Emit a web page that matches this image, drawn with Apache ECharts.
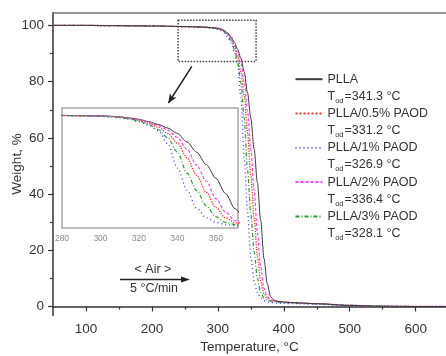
<!DOCTYPE html>
<html>
<head>
<meta charset="utf-8">
<script src="https://cdn.jsdelivr.net/npm/echarts@6/dist/echarts.min.js"></script>
<style>
  html, body { margin: 0; padding: 0; background: #fff; }
  #chart { width: 446px; height: 356px; }
</style>
</head>
<body>
<div id="chart"></div>
<script>
const temps = [50, 100, 150, 200, 250, 280, 290, 300, 305, 310, 315, 320, 325, 330, 335, 340, 345, 350, 355, 360, 365, 370, 375, 380, 385, 390, 400, 420, 450, 500, 550, 600, 650];
const pllaW = [100.0, 100.0, 99.9, 99.8, 99.6, 99.4, 99.2, 99.0, 98.7, 98.2, 97.3, 96.0, 94.0, 91.5, 88.3, 83.5, 76.0, 67.0, 56.0, 44.0, 30.5, 17.0, 8.0, 3.5, 2.3, 1.9, 1.6, 1.3, 1.0, 0.4, 0.1, 0.0, 0.0];
const paod05W = [100.0, 100.0, 99.9, 99.8, 99.6, 99.4, 99.2, 98.9, 98.5, 97.9, 96.8, 95.2, 92.7, 89.0, 83.5, 75.0, 62.0, 46.5, 31.5, 18.0, 9.0, 4.5, 2.8, 2.1, 1.9, 1.7, 1.5, 1.3, 1.0, 0.4, 0.1, 0.0, 0.0];
const paod1W = [100.0, 100.0, 99.9, 99.8, 99.5, 99.3, 99.0, 98.6, 98.1, 97.3, 95.9, 93.8, 90.8, 86.0, 74.5, 53.0, 33.5, 17.5, 9.0, 5.0, 3.0, 2.0, 1.6, 1.4, 1.3, 1.2, 1.1, 1.0, 0.8, 0.3, 0.1, 0.0, 0.0];
const paod2W = [100.0, 100.0, 99.9, 99.8, 99.6, 99.4, 99.2, 99.0, 98.6, 98.0, 97.0, 95.5, 93.3, 90.5, 86.5, 80.0, 69.5, 55.5, 41.5, 26.0, 14.0, 6.5, 3.5, 2.4, 2.0, 1.8, 1.5, 1.3, 1.0, 0.4, 0.1, 0.0, 0.0];
const paod3W = [100.0, 100.0, 99.9, 99.8, 99.6, 99.4, 99.1, 98.8, 98.4, 97.7, 96.5, 94.6, 91.5, 87.0, 79.5, 67.0, 48.5, 33.0, 19.5, 10.0, 5.0, 3.0, 2.2, 1.9, 1.7, 1.6, 1.4, 1.2, 0.9, 0.4, 0.1, 0.0, 0.0];

const seriesNames = ['PLLA', 'PLLA/0.5% PAOD', 'PLLA/1% PAOD', 'PLLA/2% PAOD', 'PLLA/3% PAOD'];
const todValues = ['341.3', '331.2', '326.9', '336.4', '328.1'];

const xTicks = [100, 200, 300, 400, 500, 600];
const xMinorTicks = [150, 250, 350, 450, 550];
const yTicks = [0, 20, 40, 60, 80, 100];
const yMinorTicks = [10, 30, 50, 70, 90];
const insetTicks = [280, 300, 320, 340, 360];

const FONT = '"Liberation Sans", Arial, sans-serif';
const INK = '#333';
const lineStyles = [
  { color: '#3c3c3c', width: 1, type: 'solid' },
  { color: '#ff3030', width: 1.3, type: 'dotted' },
  { color: '#3c3cff', width: 1.3, type: [1, 3] },
  { color: '#ff40ff', width: 1.2, type: [3, 2] },
  { color: '#2e9e2e', width: 1.2, type: [4, 2, 1, 2] },
];

const weights = [pllaW, paod05W, paod1W, paod2W, paod3W];
const pairs = w => temps.map((t, i) => [t, w[i]]);

const mainSeries = weights.map((w, i) => ({
  name: seriesNames[i],
  type: 'line',
  xAxisIndex: 0,
  yAxisIndex: 0,
  data: pairs(w),
  symbol: 'none',
  smooth: 0.3,
  smoothMonotone: 'x',
  itemStyle: { color: lineStyles[i].color },
  lineStyle: lineStyles[i],
  z: 3 + (i === 0 ? 1 : 0),
}));

const insetSeries = weights.map((w, i) => ({
  name: seriesNames[i],
  type: 'line',
  xAxisIndex: 3,
  yAxisIndex: 2,
  data: pairs(w),
  symbol: 'none',
  smooth: 0.3,
  smoothMonotone: 'x',
  itemStyle: { color: lineStyles[i].color },
  lineStyle: lineStyles[i],
}));

// zoom box + pointer arrow
mainSeries[0].markArea = {
  silent: true,
  itemStyle: { color: 'rgba(0,0,0,0)', borderColor: '#444', borderWidth: 1.5, borderType: 'dotted' },
  data: [[{ coord: [239.7, 101.8] }, { coord: [358, 87.2] }]],
};
mainSeries[0].markLine = {
  silent: true,
  symbol: ['none', 'arrow'],
  symbolSize: [6, 9],
  label: { show: false },
  lineStyle: { color: '#222', width: 1.5, type: 'solid' },
  data: [[{ coord: [260.5, 85.4] }, { coord: [225, 72.4] }]],
};

const labelStyle = { color: INK, fontSize: 13.5, fontFamily: FONT };
const grid = { left: 53, right: 0, top: 12.5, bottom: 40.5, outerBoundsMode: 'none' };

const chart = echarts.init(document.getElementById('chart'));
chart.setOption({
  animation: false,
  backgroundColor: '#fff',
  textStyle: { fontFamily: FONT },
  grid: [
    grid,
    grid,
    { left: 62, top: 108, width: 176, height: 120, outerBoundsMode: 'none', show: true, backgroundColor: '#fff', borderColor: '#a8a8a8', borderWidth: 1.5, z: 1 },
  ],
  xAxis: [
    {
      type: 'value', gridIndex: 0, min: 50, max: 646,
      name: 'Temperature, °C', nameLocation: 'middle', nameGap: 25, nameMoveOverlap: false,
      nameTextStyle: labelStyle,
      axisLine: { lineStyle: { color: INK, width: 1.5 } },
      axisTick: { customValues: xTicks, length: 5, lineStyle: { color: INK, width: 1.2 } },
      axisLabel: { customValues: xTicks, margin: 7, ...labelStyle },
      splitLine: { show: false },
    },
    {
      type: 'value', gridIndex: 0, position: 'top', min: 50, max: 646,
      axisLine: { lineStyle: { color: '#777', width: 1.5 } },
      axisTick: { show: false }, axisLabel: { show: false }, splitLine: { show: false },
    },
    {
      type: 'value', gridIndex: 1, min: 50, max: 646,
      axisLine: { show: false },
      axisTick: { customValues: xMinorTicks, length: 3, lineStyle: { color: INK, width: 1.2 } },
      axisLabel: { show: false }, splitLine: { show: false },
    },
    {
      type: 'value', gridIndex: 2, min: 280, max: 371.5,
      axisLine: { show: false },
      axisTick: { show: false },
      axisLabel: { customValues: insetTicks, margin: 6, color: '#8a8a8a', fontSize: 8.5, fontFamily: FONT },
      splitLine: { show: false },
    },
  ],
  yAxis: [
    {
      type: 'value', gridIndex: 0, min: -3.2, max: 104.6,
      name: 'Weight, %', nameLocation: 'middle', nameGap: 29, nameMoveOverlap: false,
      nameTextStyle: labelStyle,
      axisLine: { lineStyle: { color: INK, width: 1.5 } },
      axisTick: { customValues: yTicks, length: 5, lineStyle: { color: INK, width: 1.2 } },
      axisLabel: { customValues: yTicks, margin: 9, ...labelStyle },
      splitLine: { show: false },
    },
    {
      type: 'value', gridIndex: 1, min: -3.2, max: 104.6,
      axisLine: { show: false },
      axisTick: { customValues: yMinorTicks, length: 3, lineStyle: { color: INK, width: 1.2 } },
      axisLabel: { show: false }, splitLine: { show: false },
    },
    {
      type: 'value', gridIndex: 2, min: 0, max: 106,
      axisLine: { show: false }, axisTick: { show: false }, axisLabel: { show: false }, splitLine: { show: false },
    },
  ],
  legend: {
    data: seriesNames,
    orient: 'vertical',
    left: 294.5,
    top: 55.7,
    padding: 0,
    itemWidth: 27,
    itemHeight: 14,
    itemGap: -14.7,
    selectedMode: false,
    itemStyle: { opacity: 0 },
    formatter: name => `{e| }\n{n|${name}}\n{t|T}{s|od}{t|=${todValues[seriesNames.indexOf(name)]} °C}`,
    textStyle: {
      color: INK,
      rich: {
        e: { fontSize: 12.5, lineHeight: 17, color: INK, fontFamily: FONT },
        n: { fontSize: 12.5, lineHeight: 17, color: INK, fontFamily: FONT },
        t: { fontSize: 12.5, lineHeight: 17, color: INK, fontFamily: FONT },
        s: { fontSize: 7.5, lineHeight: 9, verticalAlign: 'bottom', color: INK, fontFamily: FONT, padding: [0, 1, 0, 0] },
      },
    },
  },
  graphic: [
    { type: 'text', x: 153, y: 270, style: { text: '< Air >', font: '12.5px ' + FONT, fill: INK, textAlign: 'center', textVerticalAlign: 'middle' } },
    { type: 'line', shape: { x1: 120, y1: 279.5, x2: 182, y2: 279.5 }, style: { stroke: '#222', lineWidth: 1.5 } },
    { type: 'polygon', shape: { points: [[181, 276.5], [190, 279.5], [181, 282.5]] }, style: { fill: '#222' } },
    { type: 'text', x: 154, y: 288.5, style: { text: '5 °C/min', font: '12.5px ' + FONT, fill: INK, textAlign: 'center', textVerticalAlign: 'middle' } },
  ],
  series: [...mainSeries, ...insetSeries],
});
</script>
</body>
</html>
